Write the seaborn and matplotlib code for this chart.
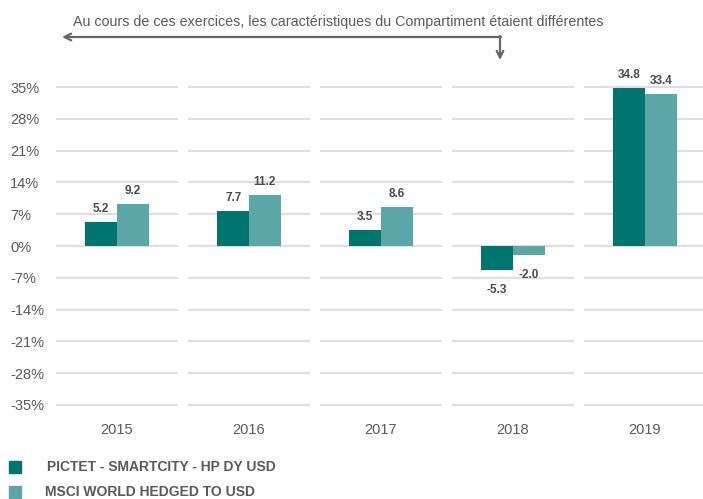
import matplotlib
matplotlib.use("Agg")
import matplotlib.pyplot as plt
import seaborn as sns
import pandas as pd
from matplotlib.patches import Rectangle

years = ["2015", "2016", "2017", "2018", "2019"]
fund = [5.2, 7.7, 3.5, -5.3, 34.8]
bench = [9.2, 11.2, 8.6, -2.0, 33.4]
series = ["PICTET - SMARTCITY - HP DY USD", "MSCI WORLD HEDGED TO USD"]
yticks = [35, 28, 21, 14, 7, 0, -7, -14, -21, -28, -35]
note = "Au cours de ces exercices, les caractéristiques du Compartiment étaient différentes"

sns.set_theme(style="white")
plt.rcParams['font.family'] = ['Liberation Sans', 'DejaVu Sans']

c_dark = "#00746F"
c_light = "#5BA6A7"
txt = "#5a5a5a"

df = pd.DataFrame({
    "year": years * 2,
    "value": fund + bench,
    "series": [series[0]] * 5 + [series[1]] * 5,
})

W, H = 703, 499
fig = plt.figure(figsize=(W / 100, H / 100), dpi=100)
ppu = 318 / 70.0
top_px = 87 - ppu * 1
bot_px = 405 + ppu * 1
left_px, right_px = 51, 51 + 132 * 5
ax = fig.add_axes([left_px / W, 1 - bot_px / H, (right_px - left_px) / W, (bot_px - top_px) / H])

sns.barplot(data=df, x="year", y="value", hue="series", order=years, hue_order=series,
            palette=[c_dark, c_light], width=0.48, ax=ax, legend=False, saturation=1,
            linewidth=0)

ax.set_ylim(-36, 36)
ax.set_xlim(-0.5, 4.5)
for i in range(len(years)):
    ax.hlines(yticks, i - 0.465, i + 0.465, color="#dedede", lw=1.6, zorder=0)

ax.set_yticks(yticks)
ax.set_yticklabels([f"{t}%" for t in yticks], fontsize=10.5, color=txt, ha="left")
ax.tick_params(axis="y", pad=(left_px - 10) * 0.72, length=0)
ax.tick_params(axis="x", length=0, pad=10, labelsize=10.5, labelcolor=txt)
ax.set_xlabel("")
ax.set_ylabel("")
for s in ax.spines.values():
    s.set_visible(False)

# value labels
for cont in ax.containers:
    for bar in cont:
        v = bar.get_height()
        x = bar.get_x() + bar.get_width() / 2
        if v >= 0:
            ax.annotate(f"{v:.1f}", (x, v), xytext=(0, 5), textcoords="offset points",
                        ha="center", va="bottom", fontsize=8.5, fontweight="bold", color="#4a4a4a")
        else:
            ax.annotate(f"{v:.1f}", (x, v), xytext=(0, -10), textcoords="offset points",
                        ha="center", va="top", fontsize=8.5, fontweight="bold", color="#4a4a4a")

# top note with arrows
fig.text(73 / W, 1 - 22 / H, note, fontsize=10.3, color=txt, ha="left", va="center")
ac = "#666666"
ax.annotate("", xy=(62 / W, 1 - 37 / H), xytext=(501 / W, 1 - 37 / H),
            xycoords="figure fraction", textcoords="figure fraction",
            arrowprops=dict(arrowstyle="->", color=ac, lw=1.6, shrinkA=0, shrinkB=0,
                            mutation_scale=12))
ax.annotate("", xy=(500 / W, 1 - 60 / H), xytext=(500 / W, 1 - 36 / H),
            xycoords="figure fraction", textcoords="figure fraction",
            arrowprops=dict(arrowstyle="->", color=ac, lw=1.6, shrinkA=0, shrinkB=0,
                            mutation_scale=12))

# legend
for k, (lab, col) in enumerate(zip(series, [c_dark, c_light])):
    yc = 467 + 25 * k
    fig.add_artist(Rectangle((9 / W, 1 - (yc + 6) / H), 12 / W, 12 / H,
                             transform=fig.transFigure, color=col))
    fig.text((47 - 2 * k) / W, 1 - yc / H, lab, fontsize=10, fontweight="bold",
             color=txt, ha="left", va="center")

fig.savefig("out.png", dpi=100)
